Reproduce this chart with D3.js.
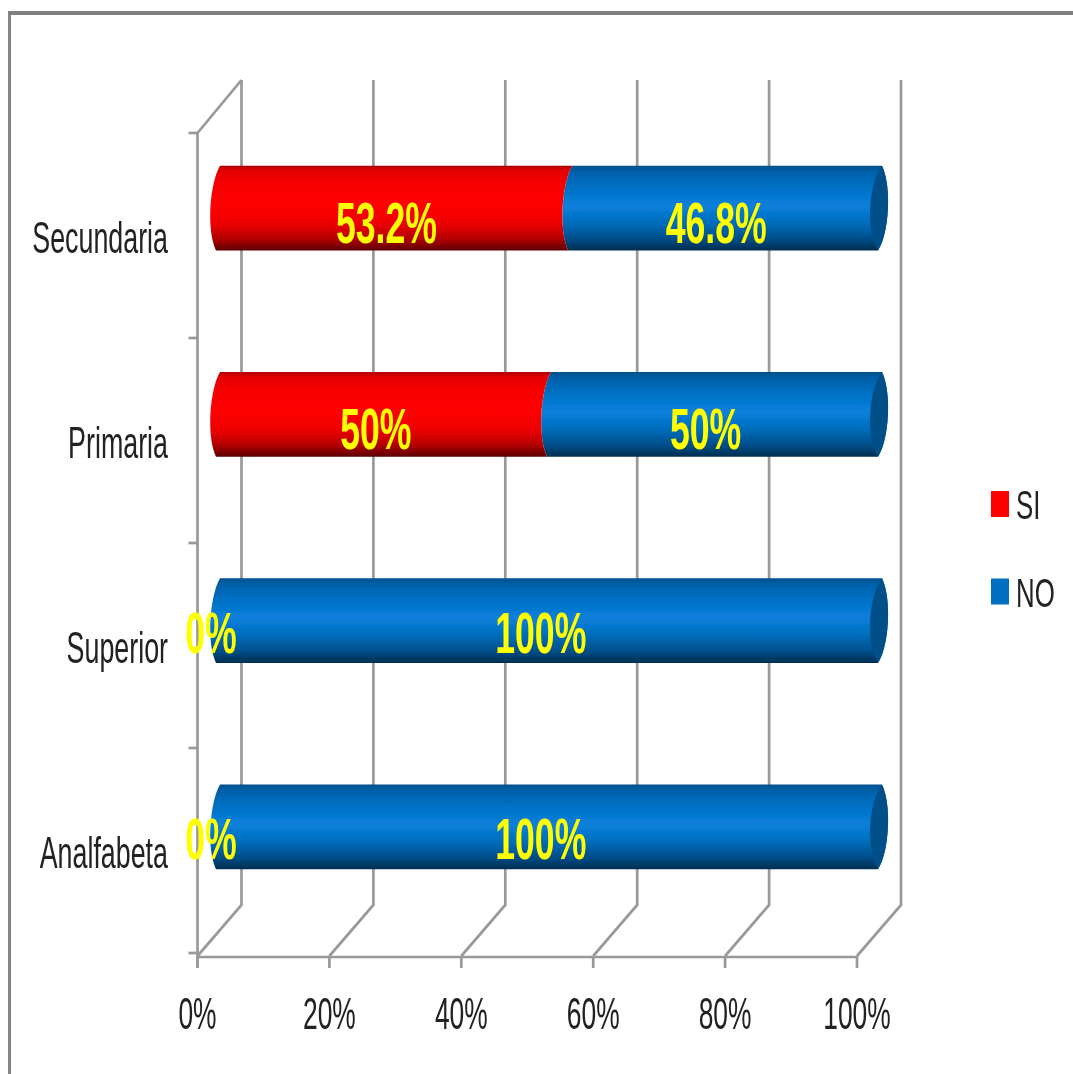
<!DOCTYPE html>
<html><head><meta charset="utf-8">
<script src="https://cdn.jsdelivr.net/npm/d3@7/dist/d3.min.js"></script>
<style>html,body{margin:0;padding:0;background:#fff}svg{display:block}</style>
</head><body><div id="chart"></div>
<script>
const categories = ["Secundaria","Primaria","Superior","Analfabeta"];
const siValues = [53.2,50,0,0];
const noValues = [46.8,50,100,100];
const siLabels = ["53.2%","50%","0%","0%"];
const noLabels = ["46.8%","50%","100%","100%"];
const xTicks = [0,20,40,60,80,100];
const seriesNames = ["SI","NO"];

const W=1073,H=1074;
const svg=d3.select("#chart").append("svg").attr("width",W).attr("height",H);
const defs=svg.append("defs");
function grad(id,stops){
  const g=defs.append("linearGradient").attr("id",id).attr("x1",0).attr("y1",0).attr("x2",0).attr("y2",1);
  stops.forEach(s=>g.append("stop").attr("offset",s[0]).attr("stop-color",s[1]));
}
grad("gSI",[[0,"#a80000"],[0.05,"#e00000"],[0.2,"#f60000"],[0.45,"#ff0505"],[0.68,"#ee0000"],[0.86,"#b40000"],[1,"#5c0000"]]);
grad("gNO",[[0,"#00508c"],[0.07,"#0060a8"],[0.25,"#0070c4"],[0.47,"#0a80dc"],[0.68,"#006cba"],[0.86,"#004e8a"],[1,"#002e50"]]);
defs.append("filter").attr("id","soft").attr("x","-5%").attr("y","-5%").attr("width","110%").attr("height","110%")
  .append("feGaussianBlur").attr("stdDeviation",0.7);

const root=svg.append("g").attr("filter","url(#soft)");
const gridColor="#999";
const txtFont="'Liberation Sans Narrow','Liberation Sans',sans-serif";

// frame
root.append("path").attr("d",`M9.5 ${H+5}V13`).attr("fill","none").attr("stroke","#868686").attr("stroke-width",3);
root.append("path").attr("d",`M8 13H${W+5}`).attr("fill","none").attr("stroke","#808080").attr("stroke-width",4);

// scales
const x=d3.scaleLinear().domain([0,100]).range([197.5,857]);
const xBar=d3.scaleLinear().domain([0,100]).range([220,882]);
const yBand=d3.scaleBand().domain(categories).range([105,930]).paddingInner(0.59).paddingOuter(0.295);
const yTick=d3.scaleLinear().domain([0,categories.length]).range([133,953]);
const dx=44,dy=-51,yBottom=956,yTop=133;

// walls
const grid=root.append("g").attr("fill","none").attr("stroke",gridColor).attr("stroke-width",2.7);
grid.selectAll("path.wall").data(xTicks).join("path").attr("class","wall")
  .attr("d",d=>`M${x(d)} ${yBottom}L${x(d)+dx} ${yBottom+dy}V${yTop+dy-2}`);
grid.append("path").attr("d",`M${x(0)} ${yTop}L${x(0)+dx} ${yTop+dy-2}`);
grid.append("path").attr("d",`M${x(0)} ${yTop}V${yBottom+12}`);
grid.append("path").attr("d",`M${x(0)} ${yBottom+1}H${x(100)}`);
grid.selectAll("path.xt").data(xTicks).join("path").attr("class","xt")
  .attr("d",d=>`M${x(d)} ${yBottom}V${yBottom+12}`);
grid.selectAll("path.yt").data(d3.range(categories.length+1)).join("path").attr("class","yt")
  .attr("d",d=>`M${x(0)-9} ${yTick(d)}H${x(0)}`);

// bars
const skew=4;
function edgeDown(vx,t,b,k){ // left-bulging edge, top to bottom
  const h=b-t;
  return `C${vx-k} ${t+h*0.2} ${vx-k-4} ${t+h*0.75} ${vx-skew} ${b}`;
}
function edgeUp(vx,t,b,k){ // same edge, bottom to top
  const h=b-t;
  return `C${vx-k-4} ${t+h*0.75} ${vx-k} ${t+h*0.2} ${vx} ${t}`;
}
function rightDown(vx,t,b){ // right-bulging edge, top to bottom
  const h=b-t;
  return `C${vx+10} ${t+h*0.25} ${vx+7} ${t+h*0.8} ${vx-skew} ${b}`;
}
const bars=root.append("g");
categories.forEach((c,i)=>{
  const t=yBand(c),b=t+yBand.bandwidth();
  const si=siValues[i];
  const a=xBar(100),m=xBar(si);
  bars.append("path").attr("fill","url(#gNO)")
    .attr("d",`M${m} ${t}L${a} ${t}${rightDown(a,t,b)}L${m-skew} ${b}${edgeUp(m,t,b,10)}Z`);
  bars.append("path").attr("fill","#054f88")
    .attr("d",`M${a} ${t}${rightDown(a,t,b)}${edgeUp(a,t,b,13)}Z`);
  if(si>0){
    const z=xBar(0);
    bars.append("path").attr("fill","url(#gSI)")
      .attr("d",`M${z} ${t}L${m} ${t}${edgeDown(m,t,b,10)}L${z-skew} ${b}${edgeUp(z,t,b,10)}Z`);
  }
});

// text helper
function label(sel,px,py,txt,size,sx,fill,weight,anchor){
  sel.append("text").attr("transform",`translate(${px},${py}) scale(${sx},1)`)
    .attr("text-anchor",anchor).attr("font-family",txtFont).attr("font-size",size)
    .attr("font-weight",weight).attr("fill",fill).text(txt);
}
// data labels
const labels=root.append("g");
categories.forEach((c,i)=>{
  const cy=yBand(c)+yBand.bandwidth()/2+(i<2?34.5:32.5);
  const si=siValues[i],no=noValues[i];
  label(labels,x(si/2)+13.5,cy,siLabels[i],57,0.625,"#ffff00","bold","middle");
  label(labels,x(si+no/2)+13.5,cy,noLabels[i],57,0.625,"#ffff00","bold","middle");
});

// axis labels
xTicks.forEach(d=>label(root,x(d),1029,d+"%",44,0.6,"#222","normal","middle"));
categories.forEach((c,i)=>{
  label(root,168,yTick(i+0.5)+17,c,44,0.61,"#222","normal","end");
});

// legend
const legendY=d3.scalePoint().domain(seriesNames).range([504,591.5]);
const legendColor=d3.scaleOrdinal().domain(seriesNames).range(["#ff0000","#0070c0"]);
seriesNames.forEach(n=>{
  root.append("rect").attr("x",991).attr("y",legendY(n)-13).attr("width",18).attr("height",26).attr("fill",legendColor(n));
  label(root,1016,legendY(n)+15,n,41,0.63,"#222","normal","start");
});
</script></body></html>
